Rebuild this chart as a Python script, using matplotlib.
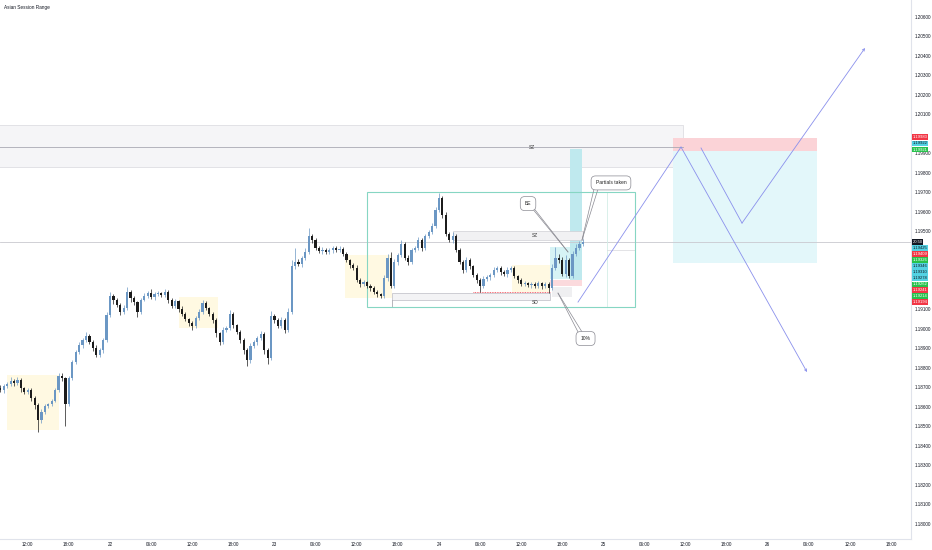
import matplotlib
matplotlib.use("Agg")
import matplotlib.pyplot as plt
import matplotlib.transforms as mtrans
from matplotlib.patches import Rectangle
import numpy as np

plt.rcParams['font.family'] = ['Liberation Sans', 'DejaVu Sans']

# ---------------- data ----------------
# 30-minute candles, time in hours from 22nd 00:00
start_time = -16.0
step_h = 0.5
first_open = 1.18697
closes = [
    1.18687, 1.18707, 1.18718, 1.18733, 1.18723, 1.18738, 1.18697, 1.18677, 1.18687, 1.18646,
    1.18610, 1.18533, 1.18574, 1.18605, 1.18615, 1.18631, 1.18687, 1.18758, 1.18748, 1.18615,
    1.18748, 1.18830, 1.18882, 1.18917, 1.18943, 1.18964, 1.18933, 1.18902, 1.18866, 1.18892,
    1.18943, 1.19071, 1.19169, 1.19149, 1.19123, 1.19087, 1.19107, 1.19189, 1.19159, 1.19138,
    1.19087, 1.19149, 1.19169, 1.19184, 1.19164, 1.19179, 1.19184, 1.19174, 1.19189, 1.19149,
    1.19118, 1.19143, 1.19102, 1.19077, 1.19051, 1.19030, 1.19015, 1.19056, 1.19087, 1.19133,
    1.19107, 1.19077, 1.19046, 1.18979, 1.18933, 1.18994, 1.19005, 1.19077, 1.19020, 1.18984,
    1.18943, 1.18892, 1.18840, 1.18912, 1.18933, 1.18953, 1.18974, 1.18892, 1.18851, 1.19066,
    1.19046, 1.19015, 1.19046, 1.18994, 1.19087, 1.19322, 1.19343, 1.19333, 1.19363, 1.19394,
    1.19476, 1.19456, 1.19415, 1.19400, 1.19405, 1.19394, 1.19405, 1.19415, 1.19405, 1.19410,
    1.19384, 1.19353, 1.19328, 1.19312, 1.19251, 1.19230, 1.19240, 1.19220, 1.19210, 1.19189,
    1.19179, 1.19169, 1.19261, 1.19363, 1.19220, 1.19343, 1.19379, 1.19435, 1.19363, 1.19343,
    1.19405, 1.19415, 1.19456, 1.19415, 1.19476, 1.19497, 1.19528, 1.19610, 1.19671, 1.19584,
    1.19487, 1.19456, 1.19476, 1.19405, 1.19343, 1.19302, 1.19353, 1.19322, 1.19276, 1.19251,
    1.19220, 1.19256, 1.19266, 1.19276, 1.19302, 1.19312, 1.19292, 1.19281, 1.19302, 1.19312,
    1.19271, 1.19251, 1.19230, 1.19235, 1.19225, 1.19230, 1.19220, 1.19235, 1.19220, 1.19230,
    1.19210, 1.19312, 1.19363, 1.19353, 1.19281, 1.19353, 1.19271, 1.19384, 1.19415, 1.19435,
    1.19446,
]
# wick lengths in pips beyond the body
upper_wick = [
    1.5, 1, 1.2, 2, 0.8, 1.5, 1, 0.6, 1.2, 0.8,
    1, 0.8, 1.5, 1, 0.6, 1.2, 1, 1.8, 1.5, 0.5,
    1.2, 1, 0.8, 1.4, 1, 2, 1.2, 0.8, 1.5, 1,
    1, 1.5, 2, 1.2, 1, 0.8, 1.5, 2.5, 1.2, 1,
    0.8, 1.2, 1.5, 1, 2, 1.2, 1, 0.8, 1.5, 1,
    1.2, 1, 0.8, 1.5, 1, 0.6, 1.2, 1, 1.4, 1.8,
    1, 0.8, 1.2, 1, 0.6, 1.5, 1, 2, 1.2, 0.8,
    1, 1.2, 0.8, 1.5, 1, 1.2, 1.5, 0.8, 1, 2.5,
    1.2, 1, 1.5, 1, 2, 3, 7, 1.5, 1.2, 2,
    4, 1.2, 1, 0.8, 1.5, 1, 1.2, 1, 0.8, 1.5,
    1, 1.2, 0.8, 1, 1.5, 1, 1.2, 0.8, 1, 1.2,
    1, 0.8, 1.5, 2, 3, 1.5, 1.2, 2, 1, 1.5,
    1.2, 1, 1.5, 1, 1.2, 1, 1.5, 1.8, 2.5, 1,
    1.5, 1, 2, 1, 0.8, 1.2, 1.5, 1, 0.8, 1,
    1, 1.5, 1.2, 1, 1.5, 1.2, 1, 0.8, 1.5, 1.2,
    1, 0.8, 1, 1.2, 0.8, 1, 1.2, 1, 0.8, 1,
    1, 2, 5.5, 2, 1.5, 2.5, 1.2, 1.5, 2, 1.5,
    1.5,
]
lower_wick = [
    1, 1.5, 1, 0.8, 1.5, 1, 2, 1.2, 1, 1.5,
    2, 6, 1.5, 1, 1.2, 1, 0.8, 1, 1.5, 11,
    1, 1.2, 1, 0.8, 1.5, 1, 1.2, 1.5, 1, 1.2,
    1.5, 1.2, 1, 2, 1.2, 1.5, 1, 1.2, 2, 1.5,
    2.5, 1, 0.8, 1.2, 1, 1.5, 1, 1.2, 1, 1.5,
    1, 1.2, 1.5, 1, 1.2, 1.5, 1.8, 1, 1.2, 1,
    1.2, 1, 1.5, 2, 1.5, 1, 1.2, 1, 1.5, 1.2,
    1.5, 2, 3, 1.2, 1, 1.5, 1, 2, 3, 1,
    1.5, 1, 1.2, 1.5, 1, 1, 1.2, 1, 1.5, 1,
    1, 1.5, 1.2, 1, 1.5, 1.2, 1, 1.5, 1, 1.2,
    1.2, 1, 1.5, 1.2, 1, 1.5, 1.2, 1, 1.5, 1.2,
    1.5, 1.2, 1, 1.5, 1.2, 1, 1.5, 1.2, 1, 1.5,
    1, 1.2, 1, 1.5, 1, 1.2, 1, 1, 1.2, 1.5,
    1.2, 1, 1.5, 1.2, 1, 1.5, 1, 1.2, 1, 1.5,
    3, 1.2, 1, 1.5, 1, 1.2, 1.5, 1, 1.2, 1,
    1.2, 1.5, 1, 1.2, 1, 1.5, 1.2, 1, 1.5, 1.2,
    2.5, 1, 1.2, 1.5, 1, 1.5, 1.2, 1, 1, 1.2,
    1,
]

# Asian session boxes
session_start = [-15.0, 10.0, 34.3, 58.7]
session_end = [-7.5, 15.8, 41.1, 64.2]
session_high = [1.18764, 1.19164, 1.19379, 1.19328]
session_low = [1.18482, 1.19005, 1.19159, 1.19189]

# x-axis ticks
x_ticks = [-12, -6, 0, 6, 12, 18, 24, 30, 36, 42, 48, 54, 60, 66, 72, 78, 84, 90, 96, 102, 108, 114]
x_labels = ["12:00", "18:00", "22", "06:00", "12:00", "18:00", "23", "06:00", "12:00", "18:00", "24",
            "06:00", "12:00", "18:00", "25", "06:00", "12:00", "18:00", "26", "06:00", "12:00", "18:00"]
y_ticks = [1.180 + 0.001 * k for k in range(27)]
y_hidden = ["1.20000", "1.19400", "1.19300", "1.19200"]   # covered by price-scale labels in the chart

# price-scale labels (text, displayed position, kind)
scale_texts = ["1.19983", "1.19922", "1.19921", "20:50", "1.19425", "1.19409", "1.19326", "1.19346",
               "1.19310", "1.19278", "1.19262", "1.19241", "1.19214", "1.19194"]
scale_pos = [1.19984, 1.19952, 1.19920, 1.19446, 1.19415, 1.19384, 1.19354, 1.19323,
             1.19292, 1.19261, 1.19230, 1.19200, 1.19169, 1.19138]
scale_kind = ["red", "cyan", "green", "black", "cyan", "red", "green", "cyan",
              "cyan", "cyan", "green", "red", "green", "red"]

last_price = 1.19446

# ---------------- figure ----------------
W, H = 932, 550
fig = plt.figure(figsize=(W / 100, H / 100), dpi=100)
fig.patch.set_facecolor("white")
ax = fig.add_axes([0, 11 / H, 911 / W, 539 / H])
ax.set_facecolor("white")
ax.set_xlim(-16.05, 116.88)
ax.set_ylim(1.17923, 1.20687)

UP = "#6b97c4"
DN = "#1c1c1c"
BLUE = "#8a90ec"

n = len(closes)
t = np.array([start_time + step_h * i for i in range(n)])
c = np.array(closes)
o = np.array([first_open] + closes[:-1])
hi = np.maximum(o, c) + np.array(upper_wick) * 1e-4
lo = np.minimum(o, c) - np.array(lower_wick) * 1e-4
cols = [UP if cc >= oo else DN for oo, cc in zip(o, c)]

# session boxes
for s, e, h_, l_ in zip(session_start, session_end, session_high, session_low):
    ax.add_patch(Rectangle((s, l_), e - s, h_ - l_, facecolor="#fff9e2", edgecolor="none", zorder=1))

# top supply zone band
ax.add_patch(Rectangle((-17, 1.19831), 83.6 + 17, 1.20046 - 1.19831, facecolor="#f5f5f7",
                       edgecolor="#d9d9de", lw=0.5, zorder=1))
ax.plot([-17, 83.6], [1.19933, 1.19933], color="#a9a9b3", lw=0.6, zorder=2)
ax.text(61.6, 1.19933, "SZ", fontsize=3.5, ha="center", va="center", color="#333", zorder=6)

# current price line
ax.axhline(last_price, color="#c9c9cf", lw=0.6, zorder=2)

# range box
ax.add_patch(Rectangle((37.5, 1.19113), 76.6 - 37.5, 1.19702 - 1.19113, facecolor="none",
                       edgecolor="#86d6c3", lw=0.8, zorder=3))
ax.plot([72.5, 72.5], [1.19113, 1.19702], color="#d3eee7", lw=0.6, zorder=2)
ax.plot([72.5, 76.6], [1.19405, 1.19405], color="#d8d8dc", lw=0.5, zorder=2)

# inner SZ band
ax.add_patch(Rectangle((50.0, 1.19456), 19.0, 1.19503 - 1.19456, facecolor="#f1f1f3",
                       edgecolor="#cfcfd5", lw=0.5, zorder=2))
ax.text(62.0, 1.19479, "SZ", fontsize=3.5, ha="center", va="center", color="#333", zorder=6)

# SD band
ax.add_patch(Rectangle((41.15, 1.19149), 64.2 - 41.15, 1.19184 - 1.19149, facecolor="#f3f3f5",
                       edgecolor="#bdbdc4", lw=0.5, zorder=2))
ax.plot([41.15, 41.15], [1.19113, 1.19149], color="#9a9aa3", lw=0.5, zorder=2)
ax.text(62.0, 1.19136, "SD", fontsize=3.5, ha="center", va="center", color="#333", zorder=6)
ax.plot([53.0, 64.2], [1.19189, 1.19189], color="#f23645", lw=0.6, ls=(0, (1, 1)), zorder=4)

# small position tool near entry
ax.add_patch(Rectangle((64.2, 1.19256), 3.2, 1.19420 - 1.19256, facecolor="#d6f3f5", edgecolor="none", zorder=1))
ax.add_patch(Rectangle((64.2, 1.19220), 4.7, 1.19251 - 1.19220, facecolor="#fbdadd", edgecolor="none", zorder=1))
ax.add_patch(Rectangle((64.5, 1.19164), 2.9, 1.19215 - 1.19164, facecolor="#efeff1", edgecolor="none", zorder=1))
ax.add_patch(Rectangle((67.1, 1.19251), 1.8, 1.19925 - 1.19251, facecolor="#bfe9ee", edgecolor="none", zorder=1))

# right position box
ax.add_patch(Rectangle((82.2, 1.19912), 21.0, 1.19979 - 1.19912, facecolor="#fbd3d7", edgecolor="none", zorder=1))
ax.add_patch(Rectangle((82.2, 1.19336), 21.0, 1.19912 - 1.19336, facecolor="#e3f7fa", edgecolor="none", zorder=1))

# candles
ax.vlines(t, lo, hi, colors=cols, lw=0.5, zorder=5)
body = np.maximum(np.abs(c - o), 0.00003)
ax.bar(t, body, bottom=np.minimum(o, c), width=0.32, color=cols, linewidth=0, zorder=5)

# projection lines
ax.plot([68.29, 83.32], [1.19138, 1.19933], color=BLUE, lw=0.6, zorder=6)
ax.annotate("", xy=(101.71, 1.18779), xytext=(83.32, 1.19933),
            arrowprops=dict(arrowstyle="->", color=BLUE, lw=0.6, mutation_scale=4, shrinkA=0, shrinkB=0), zorder=6)
ax.plot([86.24, 92.22], [1.19928, 1.19543], color=BLUE, lw=0.6, zorder=6)
ax.annotate("", xy=(110.17, 1.20441), xytext=(92.22, 1.19543),
            arrowprops=dict(arrowstyle="->", color=BLUE, lw=0.6, mutation_scale=4, shrinkA=0, shrinkB=0), zorder=6)

# callouts
def callout(text, center, bases, tip):
    for b in bases:
        ax.plot([b[0], tip[0]], [b[1], tip[1]], color="#8a8a92", lw=0.5, zorder=7)
    ax.text(center[0], center[1], text, fontsize=3.6, ha="center", va="center", color="#222", zorder=8,
            bbox=dict(boxstyle="round,pad=0.9,rounding_size=0.9", fc="white", ec="#8a8a92", lw=0.5))

callout("BE", (61.0, 1.19643), [(61.43, 1.19626), (61.87, 1.19618)], (66.83, 1.19395))
callout("Partials taken", (73.1, 1.19749), [(70.63, 1.19718), (71.21, 1.19718)], (68.87, 1.19456))
callout("10%", (69.39, 1.18951), [(68.29, 1.18985), (68.87, 1.18985)], (65.37, 1.19184))

# axes styling
for s in ["top", "left"]:
    ax.spines[s].set_visible(False)
for s in ["bottom", "right"]:
    ax.spines[s].set_color("#e0e3eb")
    ax.spines[s].set_linewidth(0.8)
ax.yaxis.tick_right()
ax.set_yticks(y_ticks)
ylabels = [f"{v:.5f}" for v in y_ticks]
ax.set_yticklabels(["" if s in y_hidden else s for s in ylabels])
ax.set_xticks(x_ticks)
ax.set_xticklabels(x_labels)
ax.tick_params(axis="y", length=0, pad=3, labelsize=3.3, labelcolor="#131722")
ax.tick_params(axis="x", length=0, pad=2, labelsize=3.3, labelcolor="#131722")

# price scale labels
trans = mtrans.blended_transform_factory(ax.transAxes, ax.transData)
bg = {"red": "#f23645", "cyan": "#53d2e3", "green": "#27c24c", "black": "#131722"}
fg = {"red": "white", "cyan": "#131722", "green": "white", "black": "white"}
for txt, pos, kind in zip(scale_texts, scale_pos, scale_kind):
    ax.text(1.0015, pos, txt, transform=trans, fontsize=3.0, ha="left", va="center", color=fg[kind],
            clip_on=False, zorder=20,
            bbox=dict(boxstyle="square,pad=0.15", fc=bg[kind], ec="none"))

fig.text(4 / W, 1 - 7 / H, "Asian Session Range", fontsize=3.4, ha="left", va="center", color="#131722")

fig.savefig("out.png", dpi=100, facecolor="white")
